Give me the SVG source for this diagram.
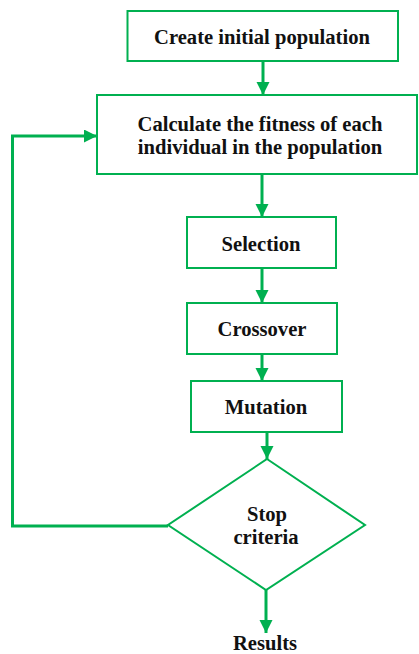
<svg xmlns="http://www.w3.org/2000/svg" width="419" height="654" viewBox="0 0 419 654">
  <defs>
    <marker id="arrow" markerUnits="userSpaceOnUse" markerWidth="14" markerHeight="14" refX="13" refY="6.5" orient="auto">
      <path d="M0,0 L13,6.5 L0,13 Z" fill="#00b050"/>
    </marker>
  </defs>
  <style>
    .box { fill: #ffffff; stroke: #00b050; stroke-width: 2; }
    .conn { fill: none; stroke: #00b050; stroke-width: 3; }
    .label { font-family: "Liberation Serif", "Times New Roman", serif; font-weight: bold; font-size: 20.6px; fill: #111111; text-anchor: middle; }
  </style>
  <rect width="419" height="654" fill="#ffffff"/>

  <!-- connectors -->
  <g id="connectors">
    <line class="conn" x1="263" y1="61" x2="263" y2="95" marker-end="url(#arrow)"/>
    <line class="conn" x1="262" y1="174" x2="262" y2="217" marker-end="url(#arrow)"/>
    <line class="conn" x1="262" y1="268" x2="262" y2="303" marker-end="url(#arrow)"/>
    <line class="conn" x1="262" y1="354" x2="262" y2="381" marker-end="url(#arrow)"/>
    <line class="conn" x1="267" y1="432" x2="267" y2="459" marker-end="url(#arrow)"/>
    <line class="conn" x1="266" y1="590" x2="266" y2="633" marker-end="url(#arrow)"/>
    <!-- loop back from decision to fitness evaluation -->
    <polyline class="conn" points="168,526 12.5,526 12.5,136 97,136" marker-end="url(#arrow)"/>
  </g>

  <g id="create">
    <rect class="box" x="127.5" y="11" width="270.5" height="50"/>
    <text class="label" x="262" y="44">Create initial population</text>
  </g>

  <g id="fitness">
    <rect class="box" x="97" y="95" width="320" height="79"/>
    <text class="label" x="260" y="131">Calculate the fitness of each</text>
    <text class="label" x="260" y="154">individual in the population</text>
  </g>

  <g id="selection">
    <rect class="box" x="187" y="217" width="149" height="51"/>
    <text class="label" x="261" y="251">Selection</text>
  </g>

  <g id="crossover">
    <rect class="box" x="187" y="303" width="150" height="51"/>
    <text class="label" x="262" y="336">Crossover</text>
  </g>

  <g id="mutation">
    <rect class="box" x="191" y="381" width="151" height="51"/>
    <text class="label" x="266" y="414">Mutation</text>
  </g>

  <g id="stop">
    <polygon class="box" points="267,459 365,525 266,590 168,525"/>
    <text class="label" x="267" y="521">Stop</text>
    <text class="label" x="266" y="544">criteria</text>
  </g>

  <g id="results">
    <text class="label" x="265" y="650">Results</text>
  </g>
</svg>
